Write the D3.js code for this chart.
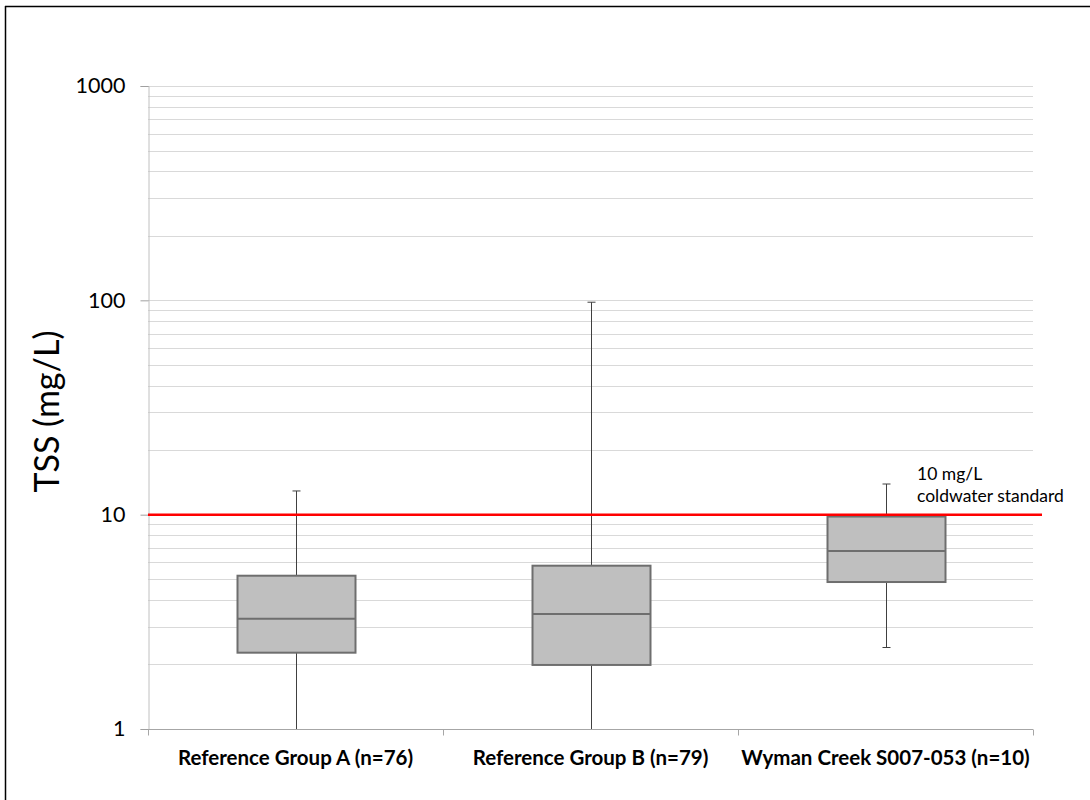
<!DOCTYPE html>
<html><head><meta charset="utf-8">
<script src="https://cdn.jsdelivr.net/npm/d3@7"></script>
<style>html,body{margin:0;background:#fff;overflow:hidden}svg{display:block}text{font-family:Lato,"Open Sans",sans-serif}</style>
</head><body><svg id="c" width="1090" height="800"></svg>
<script>
const categories = ["Reference Group A (n=76)", "Reference Group B (n=79)", "Wyman Creek S007-053 (n=10)"];
const whiskerLow = [1.0, 1.0, 2.40];
const q1 = [2.27, 1.99, 4.85];
const median = [3.27, 3.44, 6.77];
const q3 = [5.19, 5.78, 9.8];
const whiskerHigh = [12.9, 98, 13.9];
const yTicks = [1, 10, 100, 1000];
const standardValue = 10;
const standardLabel = ["10 mg/L", "coldwater standard"];
const yTitle = "TSS (mg/L)";

const svg = d3.select("#c");
const L = 148, R = 1033, T = 86, B = 729;
const y = d3.scaleLog().domain([1, 1000]).range([B, T]);
const x = d3.scaleBand().domain(categories).range([L, R]);

// frame (left and top edges visible)
svg.append("line").attr("x1", 5.5).attr("x2", 5.5).attr("y1", 6).attr("y2", 800).attr("stroke", "#000").attr("stroke-width", 1.5);
svg.append("line").attr("x1", 5).attr("x2", 1090).attr("y1", 6.5).attr("y2", 6.5).attr("stroke", "#000").attr("stroke-width", 1.5);

// gridlines
const grid = [];
for (let d = 1; d < 1000; d *= 10) for (let k = 1; k <= 10; k++) { const v = d * k; if (v > 1) grid.push(v); }
const uniq = Array.from(new Set(grid.map(v => Math.round(v))));
svg.append("g").selectAll("line").data(uniq).join("line")
  .attr("x1", L).attr("x2", R).attr("y1", d => Math.round(y(d)) + 0.5).attr("y2", d => Math.round(y(d)) + 0.5)
  .attr("stroke", "#d9d9d9").attr("stroke-width", 1);

// y axis
const ya = svg.append("g").attr("transform", `translate(${L + 0.5},0)`)
  .call(d3.axisLeft(y).tickValues(yTicks).tickFormat(d3.format("d")).tickSize(8).tickPadding(15));
ya.select(".domain").attr("stroke", "#c0c0c0");
ya.selectAll(".tick line").attr("stroke", "#a0a0a0");
ya.selectAll(".tick text").attr("font-size", 21.5).attr("fill", "#000").style("font-family", "Lato,'Open Sans',sans-serif");

// x axis
const xa = svg.append("g").attr("transform", `translate(0,${B + 0.5})`)
  .call(d3.axisBottom(x).tickSize(0).tickPadding(21));
xa.select(".domain").remove();
xa.append("line").attr("x1", L).attr("x2", R).attr("stroke", "#a6a6a6");
const bounds = [L, ...categories.map(c => x(c) + x.bandwidth())];
xa.selectAll(".bt").data(bounds).join("line").attr("class", "bt")
  .attr("x1", d => Math.round(d) + 0.5).attr("x2", d => Math.round(d) + 0.5).attr("y1", 0).attr("y2", 6).attr("stroke", "#a6a6a6");
xa.selectAll(".tick text").attr("font-size", 20.5).attr("font-weight", "bold").attr("fill", "#000")
  .style("font-family", "Lato,'Open Sans',sans-serif");

// y title
svg.append("text").attr("transform", `translate(59,${(T + B) / 2 + 4}) rotate(-90)`)
  .attr("text-anchor", "middle").attr("font-size", 34).text(yTitle);

// boxes
const data = categories.map((c, i) => ({ c, lo: whiskerLow[i], q1: q1[i], med: median[i], q3: q3[i], hi: whiskerHigh[i] }));
const bw = 118, cap = 8;
const g = svg.append("g");
data.forEach(d => {
  const cx = Math.round(x(d.c) + x.bandwidth() / 2) + 0.5;
  g.append("line").attr("x1", cx).attr("x2", cx).attr("y1", y(d.hi)).attr("y2", y(d.q3)).attr("stroke", "#404040");
  g.append("line").attr("x1", cx).attr("x2", cx).attr("y1", y(d.q1)).attr("y2", y(d.lo)).attr("stroke", "#404040");
  g.append("line").attr("x1", cx - cap / 2).attr("x2", cx + cap / 2).attr("y1", y(d.hi)).attr("y2", y(d.hi)).attr("stroke", "#404040");
  if (d.lo > 1) g.append("line").attr("x1", cx - cap / 2).attr("x2", cx + cap / 2).attr("y1", y(d.lo)).attr("y2", y(d.lo)).attr("stroke", "#404040");
  g.append("rect").attr("x", cx - bw / 2).attr("width", bw).attr("y", y(d.q3)).attr("height", y(d.q1) - y(d.q3))
    .attr("fill", "#bfbfbf").attr("stroke", "#6e6e6e").attr("stroke-width", 2);
  g.append("line").attr("x1", cx - bw / 2).attr("x2", cx + bw / 2).attr("y1", y(d.med)).attr("y2", y(d.med))
    .attr("stroke", "#6e6e6e").attr("stroke-width", 2);
});

// standard line
svg.append("line").attr("x1", L).attr("x2", 1042).attr("y1", y(standardValue)).attr("y2", y(standardValue))
  .attr("stroke", "#ff0000").attr("stroke-width", 2.5);
svg.append("text").attr("x", 917).attr("y", 480).attr("font-size", 17.5).selectAll("tspan").data(standardLabel).join("tspan")
  .attr("x", 917).attr("dy", (d, i) => i ? 22 : 0).text(d => d);
</script></body></html>
